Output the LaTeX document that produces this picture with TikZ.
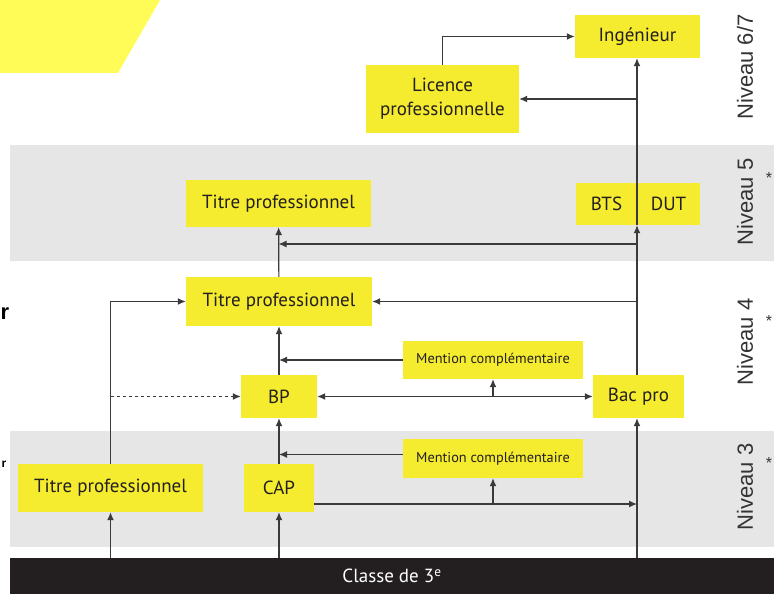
\documentclass[tikz,border=0pt]{standalone}
\usepackage{fontspec}
\setmainfont{PT Sans}
\newfontfamily\levelfont{Liberation Sans}
\usetikzlibrary{arrows.meta, positioning}

\definecolor{boxyellow}{HTML}{F5EC2F}
\definecolor{flashyellow}{HTML}{FFFC58}
\definecolor{bandgray}{HTML}{E6E6E6}
\definecolor{barblack}{HTML}{231F20}
\definecolor{textdark}{HTML}{231F20}
\definecolor{linedark}{HTML}{3A3A3A}
\definecolor{leveltext}{HTML}{333333}

\begin{document}
\begin{tikzpicture}[
    x=1pt, y=-1pt, % one unit is one pixel, y going down
    % Define box style
    box style/.style={
        fill=boxyellow, % Yellow fill
        text=textdark, % Dark text
        inner sep=0pt, % Size set by hand
        align=center, % Center alignment
        font=\fontsize{19}{24}\selectfont
      },
    % Smaller text for the mention boxes
    small box/.style={box style, font=\fontsize{14.3}{17}\selectfont},
    % Rotated level labels on the right
    level style/.style={rotate=90, text=leveltext, font=\levelfont\fontsize{22}{26}\selectfont},
    % Define arrow style
    link/.style={draw=linedark, line width=1.2pt, -{Latex[length=8pt, width=7pt]}},
    both link/.style={link, {Latex[length=8pt, width=7pt]}-{Latex[length=8pt, width=7pt]}}
  ]
  \useasboundingbox (0,0) rectangle (774,594);

  % Background shapes
  \fill[flashyellow] (0,0) -- (160,0) -- (118,73) -- (0,73) -- cycle;
  \fill[bandgray] (10,145) rectangle (774,261); % Niveau 5
  \fill[bandgray] (10,431) rectangle (774,547); % Niveau 3

  % Define nodes
  \node[box style, minimum width=125pt, minimum height=43pt] (Ingenieur) at (637.5, 36.5) {Ingénieur};
  \node[box style, minimum width=153pt, minimum height=68pt] (Licence) at (442.5, 99) {Licence\\professionnelle};
  \node[box style, minimum width=185pt, minimum height=47pt] (TitreCinq) at (278.5, 203.5) {Titre professionnel};
  \node[box style, minimum width=61pt, minimum height=42pt] (BTS) at (606.5, 204) {BTS};
  \node[box style, minimum width=63pt, minimum height=42pt] (DUT) at (668.5, 204) {DUT};
  \node[box style, minimum width=186pt, minimum height=49pt] (TitreQuatre) at (279, 301.5) {Titre professionnel};
  \node[small box, minimum width=180pt, minimum height=38pt] (MentionQuatre) at (493, 360) {Mention complémentaire};
  \node[box style, minimum width=76pt, minimum height=43pt] (BP) at (279, 396.5) {BP};
  \node[box style, minimum width=91pt, minimum height=43pt] (BacPro) at (638.5, 396.5) {Bac pro};
  \node[small box, minimum width=180pt, minimum height=39pt] (MentionTrois) at (493, 458.5) {Mention complémentaire};
  \node[box style, minimum width=185pt, minimum height=48pt] (TitreTrois) at (110.5, 488) {Titre professionnel};
  \node[box style, minimum width=70pt, minimum height=48pt] (CAP) at (279, 488) {CAP};
  \node[fill=barblack, text=white, inner sep=0pt, minimum width=764pt, minimum height=36pt,
        font=\fontsize{19}{22}\selectfont] (Classe) at (392, 576) {Classe de 3\textsuperscript{e}};

  % Level labels
  \node[level style] (NiveauSept) at (745, 67) {Niveau 6/7};
  \node[level style] (NiveauCinq) at (745, 202) {Niveau 5};
  \node[level style] (NiveauQuatre) at (745, 342) {Niveau 4};
  \node[level style] (NiveauTrois) at (745, 487) {Niveau 3};
  \node[text=leveltext, font=\levelfont\fontsize{16}{16}\selectfont] (StarCinq) at (769, 178) {*};
  \node[text=leveltext, font=\levelfont\fontsize{16}{16}\selectfont] (StarQuatre) at (769, 321) {*};
  \node[text=leveltext, font=\levelfont\fontsize{16}{16}\selectfont] (StarTrois) at (769, 463) {*};
  \node[inner sep=0pt, font=\levelfont\bfseries\fontsize{22}{22}\selectfont] (CutOne) at (5, 314) {r};
  \node[inner sep=0pt, font=\levelfont\bfseries\fontsize{12}{12}\selectfont] (CutTwo) at (4, 464) {r};

  % Junction points on the lines
  \coordinate (Spine) at (637, 558); % foot of the long line
  \coordinate (JunctionCinq) at (637, 244);
  \coordinate (CapOut) at (314, 504);

  % Long line on the right
  \draw[link] (Spine) -- (Spine |- BacPro.south);
  \draw[link] (Spine |- BacPro.north) -- (Spine |- BTS.south);
  \draw[link] (Spine |- BTS.south) -- (Spine |- Ingenieur.south);
  \draw[link] (Spine |- Licence) -- (Licence.east);
  \draw[link] (JunctionCinq) -- (JunctionCinq -| TitreCinq.south);
  \draw[link] (Spine |- TitreQuatre) -- (TitreQuatre.east);

  % Licence to Ingenieur
  \draw[link] (Licence.north) |- (Ingenieur.west);

  % Middle column
  \draw[link] (Classe.north -| CAP) -- (CAP.south);
  \draw[link] (CAP) -- (BP);
  \draw[link] (BP) -- (TitreQuatre);
  \draw[link] (TitreQuatre) -- (TitreCinq);
  \draw[link] (MentionQuatre.west) -- (MentionQuatre.west -| TitreQuatre.south);
  \draw[link] ([yshift=4pt]MentionTrois.west) -- ([yshift=4pt]MentionTrois.west -| CAP.north);

  % BP and Bac pro
  \draw[both link] (BP.east) -- (BacPro.west);
  \draw[link] (MentionQuatre.south |- BP) -- (MentionQuatre.south);

  % CAP to the long line
  \draw[link] (CapOut) -- (CapOut -| Spine);
  \draw[link] (MentionTrois.south |- CapOut) -- (MentionTrois.south);

  % Left column
  \draw[link] (Classe.north -| TitreTrois) -- (TitreTrois.south);
  \draw[link] (TitreTrois.north) |- (TitreQuatre.west);
  \draw[link, dashed] (TitreTrois.north |- BP) -- (BP.west);

\end{tikzpicture}
\end{document}
